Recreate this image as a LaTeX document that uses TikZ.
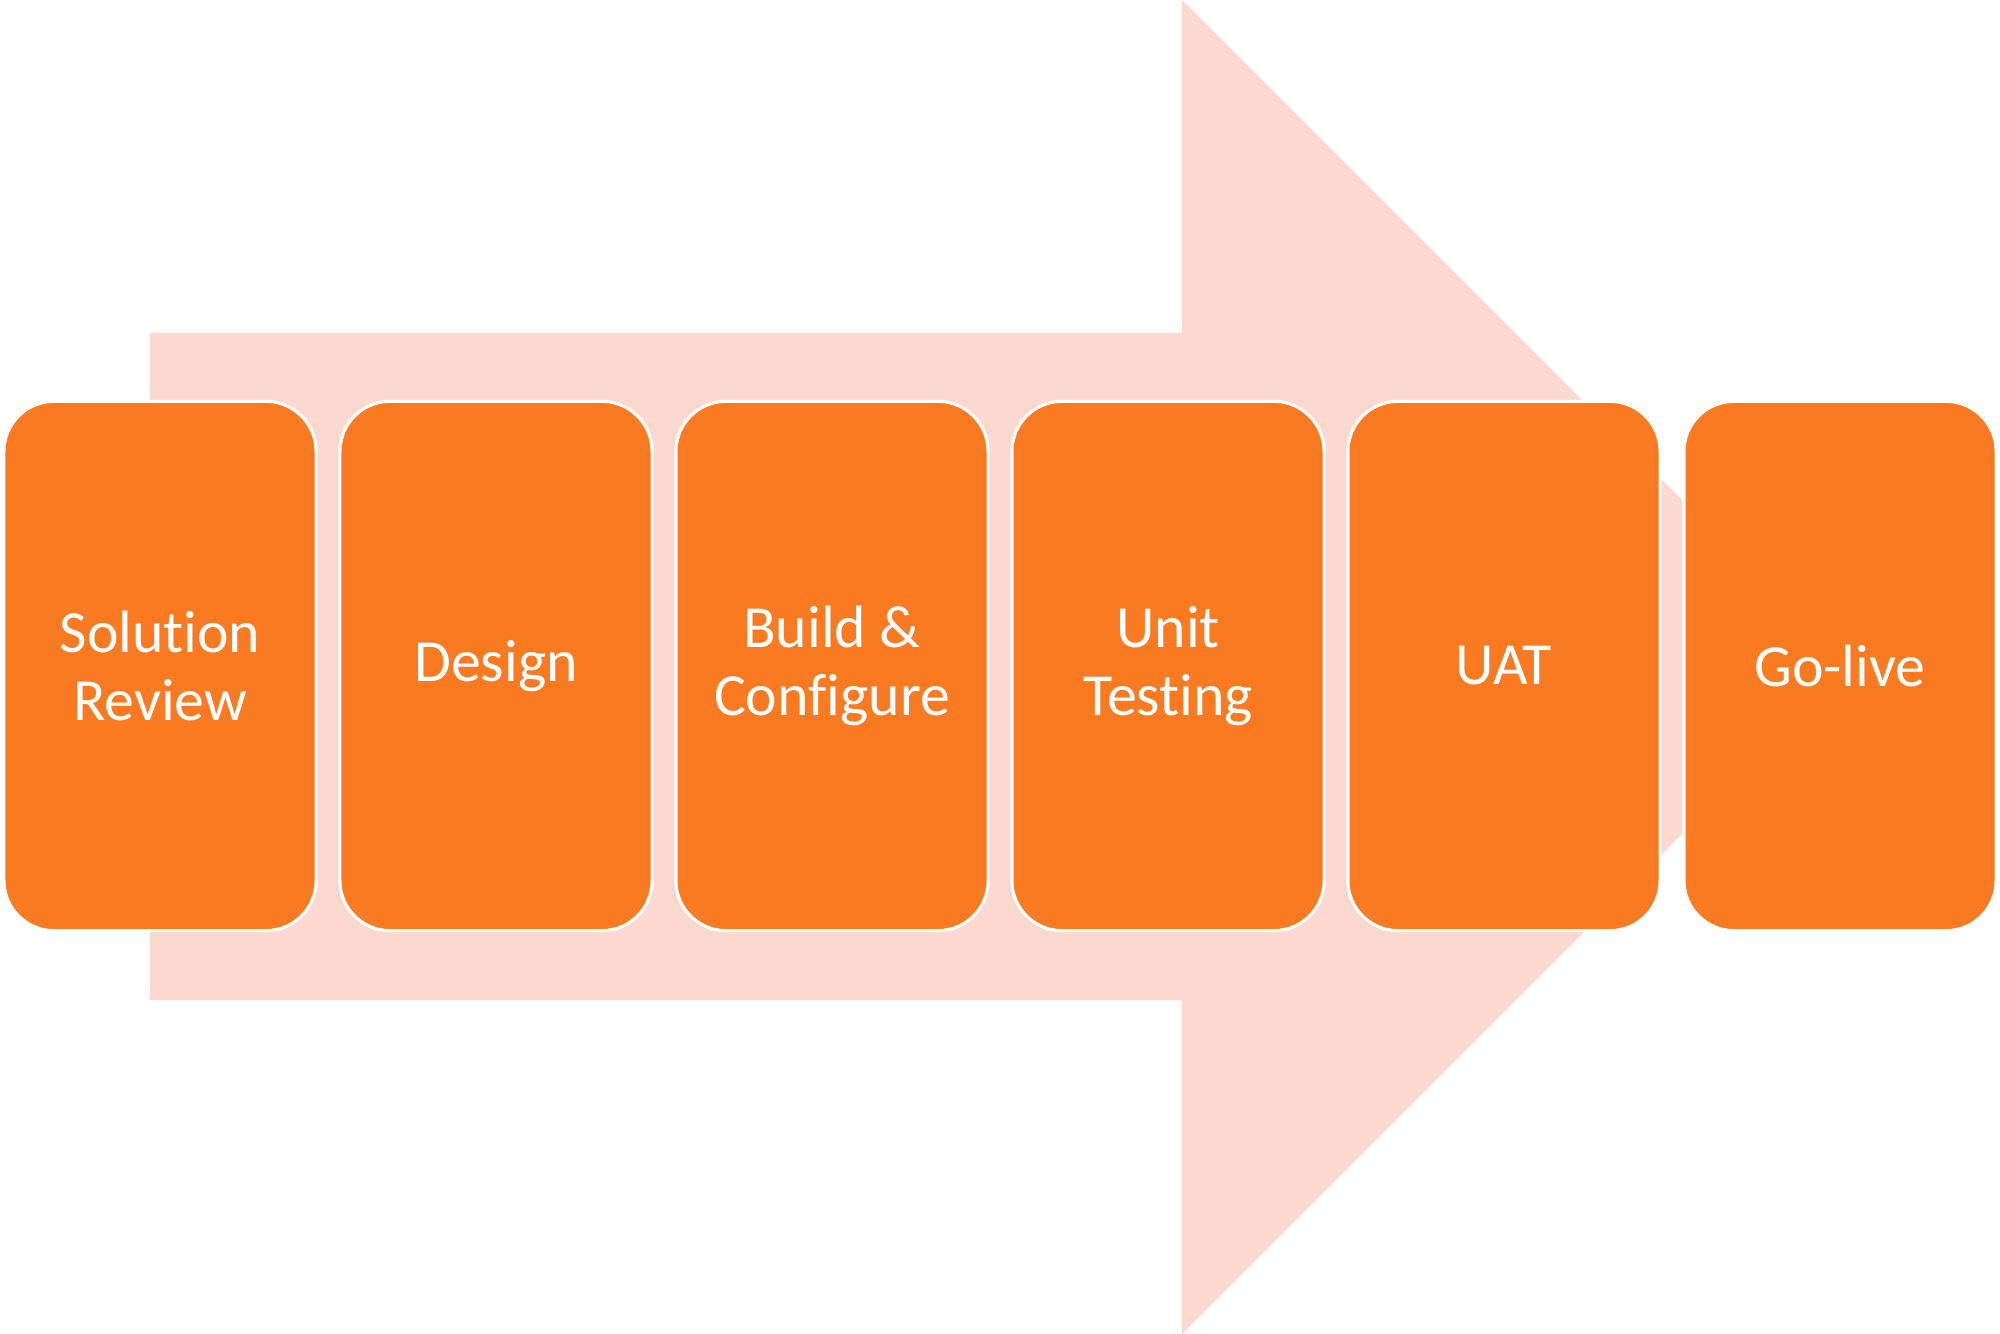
\documentclass[tikz,border=0pt]{standalone}
\usepackage{fontspec}
\setmainfont{Carlito}[Ligatures=NoCommon]
\usepackage{tikz}
\definecolor{stageorange}{HTML}{FA7A21}
\definecolor{arrowpink}{HTML}{FCD8CE}
\tikzset{
	stage/.style={draw=white, line width=0.9pt, fill=stageorange, rounded corners=0.5cm,
		minimum width=3.12cm, minimum height=5.29cm, text=white, align=center,
		font=\fontsize{17pt}{19.5pt}\selectfont}
}

\begin{document}
\begin{tikzpicture}[x=0.01cm,y=-0.01cm]
		\useasboundingbox (0,0) rectangle (2000,1334);
		\fill [arrowpink]
		(150,333) -- (1182,333) -- (1182,0) -- (1849,667)
		-- (1182,1334) -- (1182,1000) -- (150,1000) -- cycle;
		\node [stage] (review) at (160,666) {Solution\\Review};
		\node [stage] (design) at (496,666) {Design};
		\node [stage] (build) at (832,666) {Build \&\\Configure};
		\node [stage] (unit) at (1168,666) {Unit\\Testing};
		\node [stage] (uat) at (1504,666) {UAT};
		\node [stage] (golive) at (1840,666) {Go-live};
	\end{tikzpicture}
\end{document}
